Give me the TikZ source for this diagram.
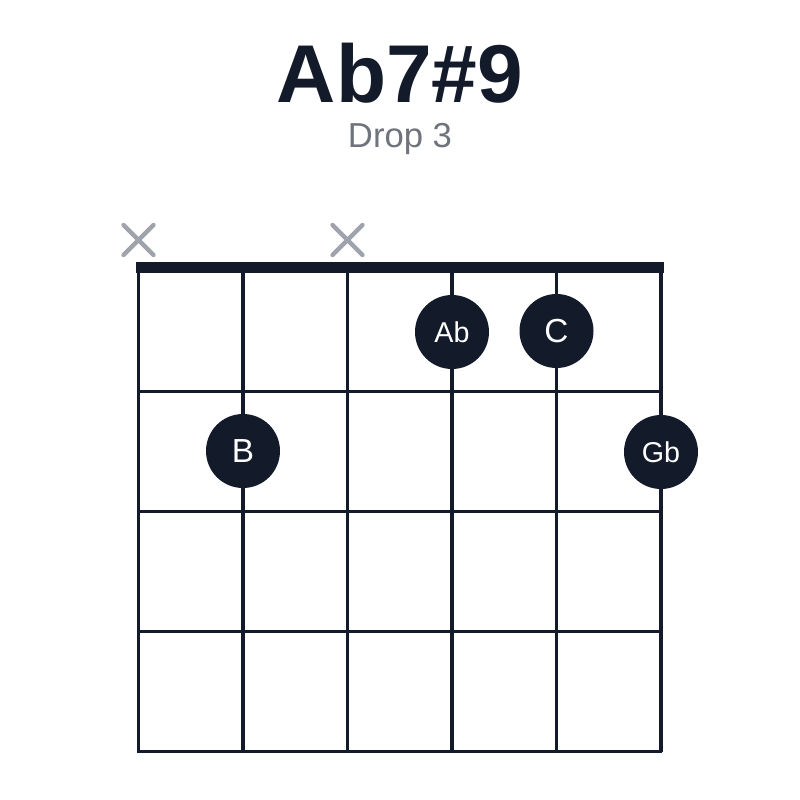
\documentclass[tikz,border=0pt]{standalone}
\usepackage{fontspec}
\setmainfont{Liberation Sans}
\definecolor{ink}{HTML}{131A29}
\definecolor{mute}{HTML}{A0A3AB}
\definecolor{subgray}{HTML}{6E737C}
\tikzset{
    finger/.style={circle, fill=ink, text=white, minimum size=55.5pt, inner sep=0pt},
    muted/.style={mute, line width=3.3pt, line cap=round}
}
\begin{document}
\begin{tikzpicture}[x=0.75pt, y=-0.75pt]
    \useasboundingbox (0,0) rectangle (800,800);
    % Title
    \node[anchor=base, inner sep=0pt] (title) at (400,102) {\fontsize{61.5}{70}\selectfont\bfseries\color{ink} Ab7\#9};
    \node[anchor=base, inner sep=0pt] (sub) at (400,147) {\fontsize{26}{30}\selectfont\color{subgray} Drop 3};

    % Strings and frets
    \foreach \s in {0,...,5} \draw[ink, line width=2.6pt] ({138.5+104.5*\s},267) -- ({138.5+104.5*\s},751.7);
    \foreach \f in {391.3,511.7,631.7,751.7} \draw[ink, line width=2.6pt] (137.2,\f) -- (662.3,\f);
    % Nut
    \draw[ink, line width=8.5pt] (136,267.5) -- (663.5,267.5);

    % Muted strings
    \foreach \s in {0,2} \draw[muted] ({138.5+104.5*\s-15},225) -- ++(30,30) ({138.5+104.5*\s-15},255) -- ++(30,-30);

    % Fingers
    \node[finger] (ab) at (452,332) {\fontsize{21.5}{24}\selectfont Ab};
    \node[finger] (c) at (556.5,331) {\fontsize{25}{28}\selectfont C};
    \node[finger] (b) at (243,451) {\fontsize{25}{28}\selectfont B};
    \node[finger] (gb) at (661,452) {\fontsize{21.5}{24}\selectfont Gb};
\end{tikzpicture}
\end{document}
